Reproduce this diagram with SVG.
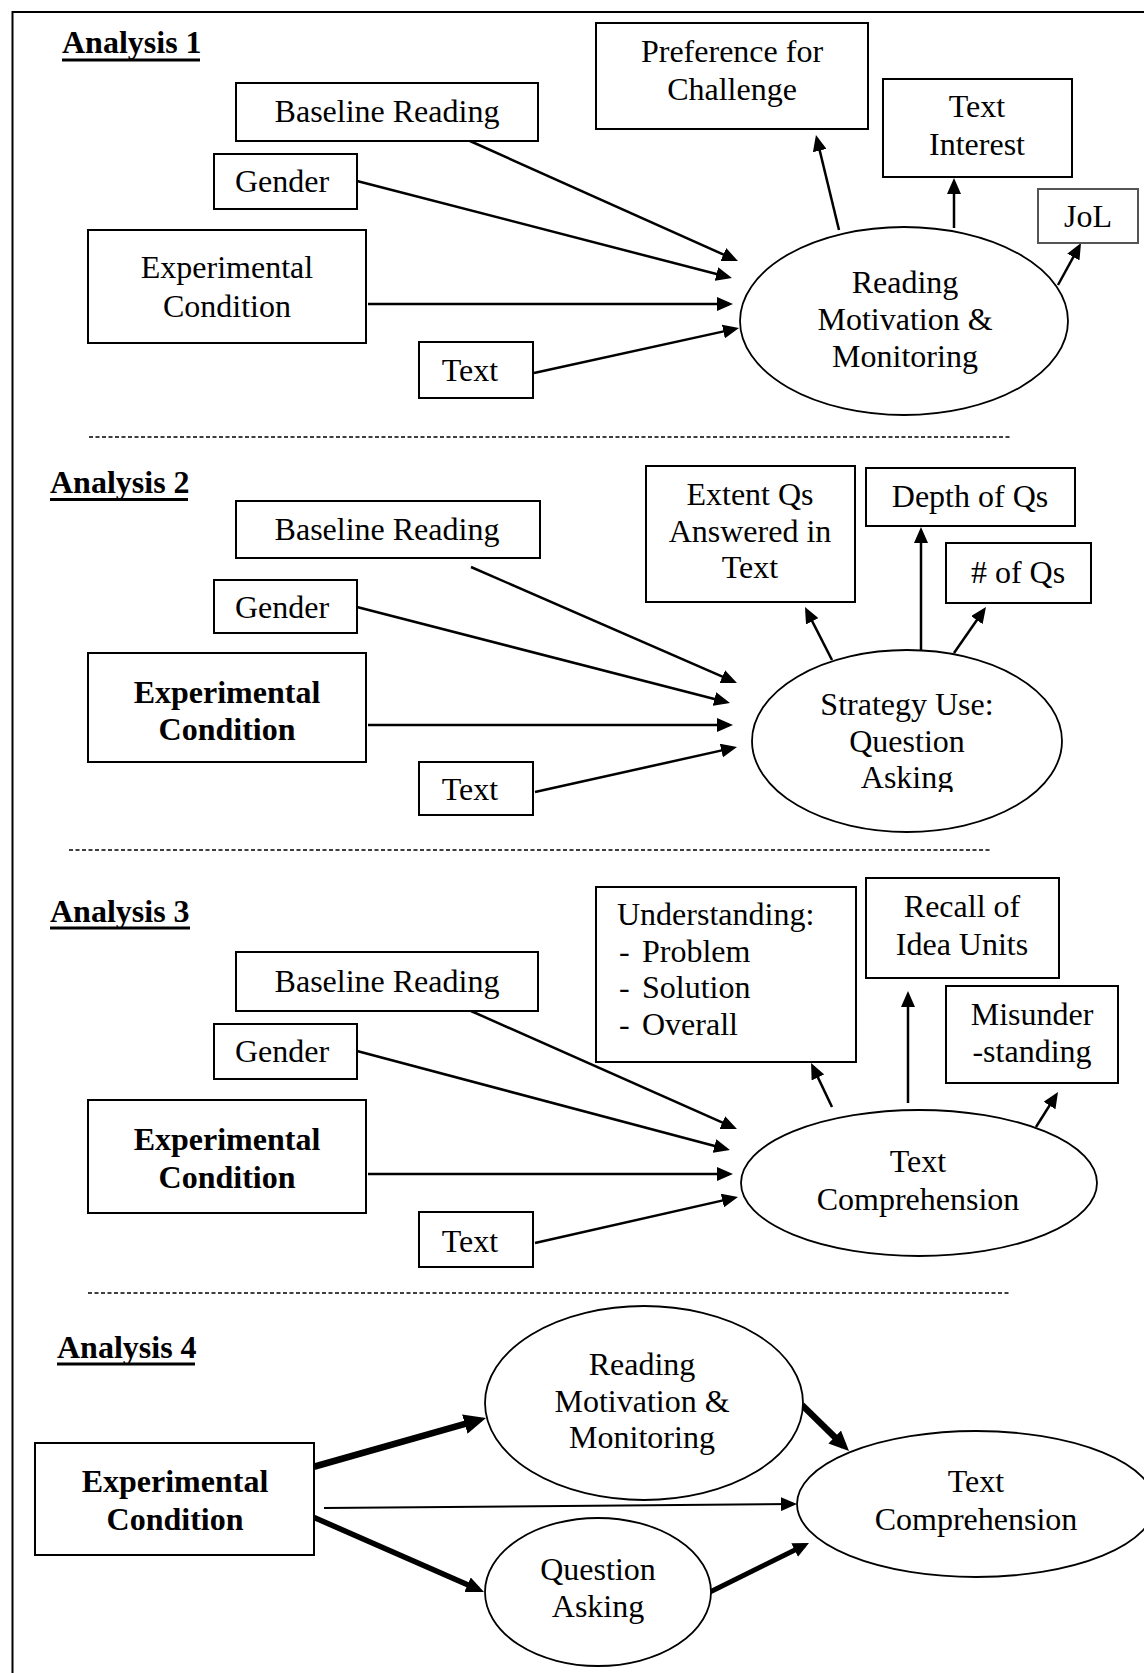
<svg xmlns="http://www.w3.org/2000/svg" width="1144" height="1673" viewBox="0 0 1144 1673">
<style>
  .box { fill: #fff; stroke: #000; stroke-width: 2; }
  .ell { fill: #fff; stroke: #000; stroke-width: 1.8; }
  .t { font-family: "Liberation Serif", "Times New Roman", serif; font-size: 32px; fill: #000; text-anchor: middle; }
  .tl { font-family: "Liberation Serif", "Times New Roman", serif; font-size: 32px; fill: #000; text-anchor: start; }
  .b { font-weight: bold; }
  .h { font-family: "Liberation Serif", "Times New Roman", serif; font-size: 32px; font-weight: bold; fill: #000; }
  .ul { stroke: #000; stroke-width: 3; }
  .dash { stroke: #000; stroke-width: 1.5; stroke-dasharray: 4 2.5; fill: none; }
  .arr { stroke: #000; stroke-width: 2.5; fill: none; marker-end: url(#ah); }
</style>
<defs>
  <marker id="ah" markerUnits="userSpaceOnUse" markerWidth="16" markerHeight="14" viewBox="0 0 16 14" refX="12" refY="7" orient="auto"><path d="M0,0 L16,7 L0,14 z" fill="#000"/></marker>
  <marker id="ahThin" markerUnits="userSpaceOnUse" markerWidth="16" markerHeight="14" viewBox="0 0 16 14" refX="12" refY="7" orient="auto"><path d="M0,0 L16,7 L0,14 z" fill="#000"/></marker>
  <marker id="ahBig" markerUnits="userSpaceOnUse" markerWidth="22" markerHeight="20" viewBox="0 0 22 20" refX="14" refY="10" orient="auto"><path d="M0,0 L22,10 L0,20 z" fill="#000"/></marker>
  <marker id="ahRM" markerUnits="userSpaceOnUse" markerWidth="20" markerHeight="18" viewBox="0 0 20 18" refX="13" refY="9" orient="auto"><path d="M0,0 L20,9 L0,18 z" fill="#000"/></marker>
  <marker id="ahMed" markerUnits="userSpaceOnUse" markerWidth="18" markerHeight="16" viewBox="0 0 18 16" refX="12" refY="8" orient="auto"><path d="M0,0 L18,8 L0,16 z" fill="#000"/></marker>
  <marker id="ahQA" markerUnits="userSpaceOnUse" markerWidth="16" markerHeight="15" viewBox="0 0 16 15" refX="11" refY="7.5" orient="auto"><path d="M0,0 L16,7.5 L0,15 z" fill="#000"/></marker>
  <clipPath id="clipAsking"><rect x="700" y="600" width="400" height="192"/></clipPath>
</defs>
<rect x="0" y="0" width="1144" height="1673" fill="#fff"/>
<g id="frame"><path d="M12.5,1673 V12 H1144" fill="none" stroke="#000" stroke-width="2"/></g>
<g id="separators">
  <line class="dash" x1="89" y1="437" x2="1010" y2="437"/>
  <line class="dash" x1="69" y1="850" x2="990" y2="850"/>
  <line class="dash" x1="88" y1="1293" x2="1009" y2="1293"/>
</g>
<g id="headings">
  <g id="h1"><text class="h" x="62" y="53">Analysis 1</text><line class="ul" x1="62" y1="60" x2="200" y2="60"/></g>
  <g id="h2"><text class="h" x="50" y="493">Analysis 2</text><line class="ul" x1="50" y1="499.5" x2="188" y2="499.5"/></g>
  <g id="h3"><text class="h" x="50" y="922">Analysis 3</text><line class="ul" x1="50" y1="928" x2="190" y2="928"/></g>
  <g id="h4"><text class="h" x="57" y="1358">Analysis 4</text><line class="ul" x1="57" y1="1364" x2="195" y2="1364"/></g>
</g>
<g id="connectors">
  <line class="arr" x1="470" y1="141" x2="734.3" y2="259.4"/>
  <line class="arr" x1="357" y1="181" x2="728.1" y2="277"/>
  <line class="arr" x1="368" y1="304" x2="729" y2="304"/>
  <line class="arr" x1="534" y1="373" x2="735.1" y2="328.9"/>
  <line class="arr" x1="839" y1="230" x2="816.9" y2="138.9"/>
  <line class="arr" x1="954" y1="228" x2="954" y2="182"/>
  <line class="arr" x1="1058" y1="285" x2="1079.1" y2="246.5"/>

  <line class="arr" x1="471" y1="567" x2="733.3" y2="681.4"/>
  <line class="arr" x1="357" y1="607" x2="726.1" y2="702"/>
  <line class="arr" x1="368" y1="725" x2="729" y2="725"/>
  <line class="arr" x1="535" y1="792" x2="733.1" y2="747.9"/>
  <line class="arr" x1="832" y1="660" x2="806.8" y2="610.6"/>
  <line class="arr" x1="921" y1="651" x2="921" y2="531"/>
  <line class="arr" x1="954" y1="653" x2="983.7" y2="610.3"/>

  <line class="arr" x1="471" y1="1011" x2="733.3" y2="1127.4"/>
  <line class="arr" x1="357" y1="1051" x2="726.1" y2="1149"/>
  <line class="arr" x1="368" y1="1174" x2="729" y2="1174"/>
  <line class="arr" x1="535" y1="1243" x2="734.1" y2="1197.9"/>
  <line class="arr" x1="832" y1="1107" x2="812.8" y2="1066.6"/>
  <line class="arr" x1="908" y1="1103" x2="908" y2="995"/>
  <line class="arr" x1="1036" y1="1127" x2="1055.9" y2="1095.4"/>

  <line x1="313" y1="1467" x2="478.3" y2="1420.2" stroke="#000" stroke-width="6.5" marker-end="url(#ahBig)"/>
  <line x1="313" y1="1517" x2="478.5" y2="1589.6" stroke="#000" stroke-width="5.5" marker-end="url(#ahMed)"/>
  <line x1="324" y1="1508" x2="793" y2="1504" stroke="#000" stroke-width="2" marker-end="url(#ahThin)"/>
  <line x1="802" y1="1405" x2="844" y2="1446.1" stroke="#000" stroke-width="6.5" marker-end="url(#ahRM)"/>
  <line x1="710" y1="1592" x2="804.5" y2="1545.2" stroke="#000" stroke-width="5" marker-end="url(#ahQA)"/>
</g>

<!-- Analysis 1 -->
<g id="a1-preference"><rect class="box" x="596" y="23" width="272" height="106"/><text class="t" x="732" y="62">Preference for</text><text class="t" x="732" y="100">Challenge</text></g>
<g id="a1-baseline"><rect class="box" x="236" y="83" width="302" height="58"/><text class="t" x="387" y="122">Baseline Reading</text></g>
<g id="a1-textinterest"><rect class="box" x="883" y="79" width="189" height="98"/><text class="t" x="977" y="117">Text</text><text class="t" x="977" y="155">Interest</text></g>
<g id="a1-gender"><rect class="box" x="214" y="154" width="143" height="55"/><text class="t" x="282" y="192">Gender</text></g>
<g id="a1-jol"><rect class="box" x="1038" y="189" width="100" height="54" style="stroke:#555"/><text class="t" x="1088" y="227">JoL</text></g>
<g id="a1-expcond"><rect class="box" x="88" y="230" width="278" height="113"/><text class="t" x="227" y="278">Experimental</text><text class="t" x="227" y="317">Condition</text></g>
<g id="a1-text"><rect class="box" x="419" y="342" width="114" height="56"/><text class="t" x="470" y="381">Text</text></g>
<g id="a1-rmm"><ellipse class="ell" cx="904" cy="321" rx="164" ry="94"/><text class="t" x="905" y="293">Reading</text><text class="t" x="905" y="330">Motivation &amp;</text><text class="t" x="905" y="367">Monitoring</text></g>

<!-- Analysis 2 -->
<g id="a2-baseline"><rect class="box" x="236" y="501" width="304" height="57"/><text class="t" x="387" y="540">Baseline Reading</text></g>
<g id="a2-extent"><rect class="box" x="646" y="466" width="209" height="136"/><text class="t" x="750" y="505">Extent Qs</text><text class="t" x="750" y="542">Answered in</text><text class="t" x="750" y="578">Text</text></g>
<g id="a2-depth"><rect class="box" x="866" y="468" width="209" height="58"/><text class="t" x="970" y="507">Depth of Qs</text></g>
<g id="a2-numqs"><rect class="box" x="946" y="543" width="145" height="60"/><text class="t" x="1018" y="583"># of Qs</text></g>
<g id="a2-gender"><rect class="box" x="214" y="580" width="143" height="53"/><text class="t" x="282" y="618">Gender</text></g>
<g id="a2-expcond"><rect class="box" x="88" y="653" width="278" height="109"/><text class="t b" x="227" y="703">Experimental</text><text class="t b" x="227" y="740">Condition</text></g>
<g id="a2-text"><rect class="box" x="419" y="762" width="114" height="53"/><text class="t" x="470" y="800">Text</text></g>
<g id="a2-strategy"><ellipse class="ell" cx="907" cy="741" rx="155" ry="91"/><text class="t" x="907" y="715">Strategy Use:</text><text class="t" x="907" y="752">Question</text><text class="t" x="907" y="788" clip-path="url(#clipAsking)">Asking</text></g>

<!-- Analysis 3 -->
<g id="a3-understanding"><rect class="box" x="596" y="887" width="260" height="175"/><text class="tl" x="617" y="925">Understanding:</text><text class="tl" x="619" y="962">-<tspan x="642">Problem</tspan></text><text class="tl" x="619" y="998">-<tspan x="642">Solution</tspan></text><text class="tl" x="619" y="1035">-<tspan x="642">Overall</tspan></text></g>
<g id="a3-recall"><rect class="box" x="866" y="878" width="193" height="100"/><text class="t" x="962" y="917">Recall of</text><text class="t" x="962" y="955">Idea Units</text></g>
<g id="a3-misunder"><rect class="box" x="946" y="986" width="172" height="97"/><text class="t" x="1032" y="1025">Misunder</text><text class="t" x="1032" y="1062">-standing</text></g>
<g id="a3-baseline"><rect class="box" x="236" y="952" width="302" height="59"/><text class="t" x="387" y="992">Baseline Reading</text></g>
<g id="a3-gender"><rect class="box" x="214" y="1024" width="143" height="55"/><text class="t" x="282" y="1062">Gender</text></g>
<g id="a3-expcond"><rect class="box" x="88" y="1100" width="278" height="113"/><text class="t b" x="227" y="1150">Experimental</text><text class="t b" x="227" y="1188">Condition</text></g>
<g id="a3-text"><rect class="box" x="419" y="1212" width="114" height="55"/><text class="t" x="470" y="1252">Text</text></g>
<g id="a3-textcomp"><ellipse class="ell" cx="919" cy="1183" rx="178" ry="73"/><text class="t" x="918" y="1172">Text</text><text class="t" x="918" y="1210">Comprehension</text></g>

<!-- Analysis 4 -->
<g id="a4-expcond"><rect class="box" x="35" y="1443" width="279" height="112"/><text class="t b" x="175" y="1492">Experimental</text><text class="t b" x="175" y="1530">Condition</text></g>
<g id="a4-rmm"><ellipse class="ell" cx="644" cy="1403" rx="159" ry="97"/><text class="t" x="642" y="1375">Reading</text><text class="t" x="642" y="1412">Motivation &amp;</text><text class="t" x="642" y="1448">Monitoring</text></g>
<g id="a4-qa"><ellipse class="ell" cx="598" cy="1592" rx="113" ry="74"/><text class="t" x="598" y="1580">Question</text><text class="t" x="598" y="1617">Asking</text></g>
<g id="a4-textcomp"><ellipse class="ell" cx="976" cy="1504" rx="179" ry="73"/><text class="t" x="976" y="1492">Text</text><text class="t" x="976" y="1530">Comprehension</text></g>
</svg>
